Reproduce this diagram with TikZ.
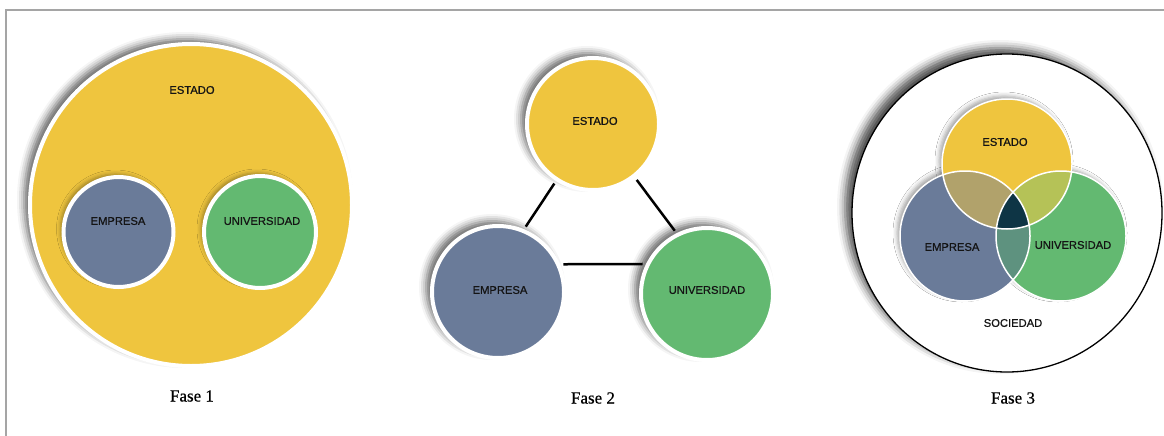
\documentclass[tikz,border=0pt]{standalone}
\usepackage{fontspec}
\setmainfont{Liberation Serif}[FakeBold=0.6]
\newfontfamily\arialf{Liberation Sans}[FakeBold=0.8]
\usetikzlibrary{shapes.geometric,shadows.blur}
\definecolor{cYel}{RGB}{239,197,62}
\definecolor{cBlu}{RGB}{106,123,153}
\definecolor{cGrn}{RGB}{99,185,113}
\definecolor{cEE}{RGB}{177,162,107}
\definecolor{cEU}{RGB}{181,194,87}
\definecolor{cPU}{RGB}{94,146,127}
\definecolor{cAll}{RGB}{14,53,69}
\definecolor{cTxt}{RGB}{20,20,20}
\definecolor{cFrame}{RGB}{165,165,165}
\tikzset{
 shad/.style={blur shadow={shadow xshift=-6pt, shadow yshift=5pt, shadow blur radius=7pt, shadow opacity=60}},
 outershad/.style={blur shadow={shadow xshift=-7pt, shadow yshift=6pt, shadow blur radius=8pt, shadow opacity=70}},
 lightshad/.style={blur shadow={shadow xshift=-3pt, shadow yshift=3pt, shadow blur radius=4pt, shadow opacity=35}},
 disk/.style={circle, inner sep=0pt, outer sep=0pt, draw=white},
 lbl/.style={font=\arialf\fontsize{11.2}{13}\selectfont, text=cTxt, inner sep=0pt},
 fase/.style={font=\fontsize{17}{20}\selectfont, text=black, inner sep=0pt},
 conn/.style={draw=black, line width=2.5pt},
 ring3/.style={draw=white, line width=1.5pt},
}
\begin{document}
\begin{tikzpicture}[x=1pt,y=-1pt]
\useasboundingbox (0,0) rectangle (1164,436);
% frame
\coordinate (frA) at (6,437);
\coordinate (frB) at (6,10);
\coordinate (frC) at (1165,10);
\draw[cFrame, line width=1.5pt] (frA) -- (frB) -- (frC);

% ---------- Fase 1 ----------
\node[disk, shad, fill=cYel, line width=4pt, minimum size=322pt] (f1estado) at (191,205) {};
\node[disk, lightshad, fill=cBlu, line width=4pt, minimum size=110pt] (f1empresa) at (118.5,232) {};
\node[disk, lightshad, fill=cGrn, line width=4pt, minimum size=112pt] (f1univ) at (260,232) {};
\node[lbl] (t1e) at (192,90) {ESTADO};
\node[lbl] (t1p) at (118,221) {EMPRESA};
\node[lbl] (t1u) at (262,221) {UNIVERSIDAD};
\node[fase] (fase1) at (192,396) {Fase 1};

% ---------- Fase 2 ----------
\node[disk, shad, fill=cYel, line width=4pt, minimum size=132pt, outer sep=5pt] (f2estado) at (593,124) {};
\node[disk, shad, fill=cBlu, line width=4pt, minimum size=132pt, outer sep=5pt] (f2empresa) at (498,292) {};
\node[disk, shad, fill=cGrn, line width=4pt, minimum size=132pt, outer sep=5pt] (f2univ) at (707,294) {};
\draw[conn] (f2estado.237) -- (f2empresa.67);
\draw[conn] (f2estado.308) -- (f2univ.117);
\draw[conn] (f2empresa.23) -- (f2univ.155);
\node[lbl] (t2e) at (595,121) {ESTADO};
\node[lbl] (t2p) at (500,290) {EMPRESA};
\node[lbl] (t2u) at (707,290) {UNIVERSIDAD};
\node[fase] (fase2) at (593,398) {Fase 2};

% ---------- Fase 3 ----------
\node[ellipse, draw=black, line width=1.3pt, fill=white, outershad, inner sep=0pt,
      minimum width=310pt, minimum height=318pt] (f3soc) at (1007,213) {};
\coordinate (c3e) at (1007,164);
\coordinate (c3p) at (965,236);
\coordinate (c3u) at (1061,236);
\path[lightshad] (c3p) circle[radius=65pt];
\path[lightshad] (c3u) circle[radius=65pt];
\path[lightshad] (c3e) circle[radius=65pt];
\node[disk, draw=none, fill=cBlu, minimum size=130pt] (f3empresa) at (c3p) {};
\node[disk, draw=none, fill=cGrn, minimum size=130pt] (f3univ) at (c3u) {};
\node[disk, draw=none, fill=cYel, minimum size=130pt] (f3estado) at (c3e) {};
\begin{scope}
  \clip (f3estado.center) circle[radius=65pt];
  \fill[cEE] (f3empresa.center) circle[radius=65pt];
  \fill[cEU] (f3univ.center) circle[radius=65pt];
\end{scope}
\begin{scope}
  \clip (f3empresa.center) circle[radius=65pt];
  \fill[cPU] (f3univ.center) circle[radius=65pt];
\end{scope}
\begin{scope}
  \clip (f3estado.center) circle[radius=65pt];
  \clip (f3empresa.center) circle[radius=65pt];
  \fill[cAll] (f3univ.center) circle[radius=65pt];
\end{scope}
\draw[ring3] (f3empresa.center) circle[radius=65pt];
\draw[ring3] (f3univ.center) circle[radius=65pt];
\draw[ring3] (f3estado.center) circle[radius=65pt];
\node[lbl] (t3e) at (1005,142) {ESTADO};
\node[lbl] (t3p) at (952,247) {EMPRESA};
\node[lbl] (t3u) at (1073,245) {UNIVERSIDAD};
\node[lbl] (t3s) at (1013,323) {SOCIEDAD};
\node[fase] (fase3) at (1013,398) {Fase 3};
\end{tikzpicture}
\end{document}
